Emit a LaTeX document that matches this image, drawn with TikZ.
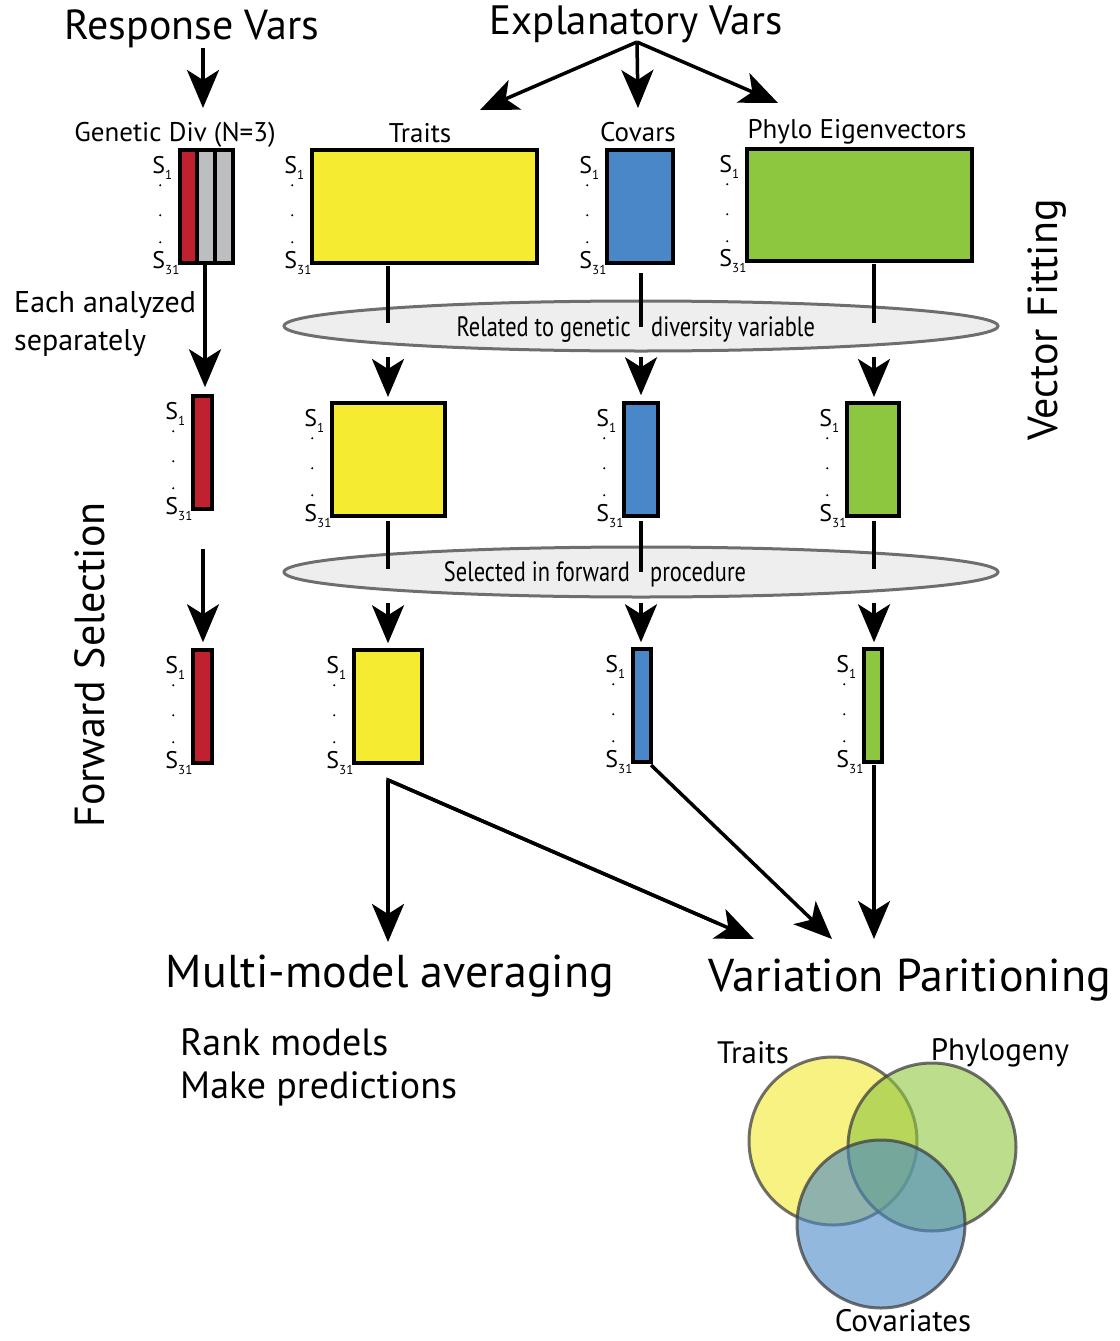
\documentclass[tikz,border=0pt]{standalone}
\usepackage{fontspec}
\setmainfont{PT Sans}
\newfontfamily\condfont[FakeStretch=0.8]{PT Sans}
\usetikzlibrary{arrows.meta,calc,shapes.geometric}
\definecolor{cred}{HTML}{C1202F}
\definecolor{cgray}{HTML}{BDBEC0}
\definecolor{cyel}{HTML}{F5EB30}
\definecolor{cblue}{HTML}{4A87C8}
\definecolor{cgreen}{HTML}{8DC63F}
\definecolor{ellfill}{HTML}{EEEEEE}
\definecolor{elldraw}{HTML}{6E6E6E}
\definecolor{vyel}{HTML}{F3E92F}
\definecolor{vgreen}{HTML}{8DC63F}
\definecolor{vblue}{HTML}{4A89C8}
\newcommand\fs[1]{\fontsize{#1}{#1}\selectfont}
\newcommand\subnum[1]{\raisebox{-0.5ex}{\fs{13pt}#1}}
\newcommand\slabels[1]{%
  \path (#1.north west) ++(-26,25) node[anchor=base west,inner sep=0pt,font=\fs{24pt}] (#1s1) {S\subnum{1}};
  \path (#1.south west) ++(-26,4) node[anchor=base west,inner sep=0pt,font=\fs{24pt}] (#1s31) {S\subnum{31}};
  \fill (#1.north west) ++(-18,37) circle (1.2);
  \fill (#1.north west) ++(-18,67) circle (1.2);
  \fill (#1.north west) ++(-18,94) circle (1.2);
}
\begin{document}
\begin{tikzpicture}[x=1pt,y=-1pt,
  box/.style={draw=black,line width=3.5pt,rectangle,inner sep=0pt},
  ln/.style={line width=3.5pt},
  arr/.style={line width=3.5pt,-{Stealth[length=38pt,width=32pt,inset=10pt]}},
  ell/.style={ellipse,draw=elldraw,fill=ellfill,line width=3pt,minimum width=714pt,minimum height=50pt,inner sep=0pt},
  venn/.style={circle,draw=black!75,draw opacity=0.75,line width=3pt,fill opacity=0.6,minimum size=168pt,inner sep=0pt},
  lab/.style={inner sep=0pt}]
\path[use as bounding box] (0,0) rectangle (1119,1341);

% titles
\node[lab,font=\fs{42pt}] (rv) at (192,29) {Response Vars};
\node[lab,font=\fs{41pt}] (ev) at (636,24) {Explanatory Vars};
\coordinate (rva) at (203,108);
\coordinate (ev0) at (637,42);
\coordinate (eva) at (480,110);
\coordinate (evb) at (638,108);
\coordinate (evc) at (778,103);
\draw[arr] (203,48) -- (rva);
\draw[arr] (ev0) -- (eva);
\draw[arr] (ev0) -- (evb);
\draw[arr] (ev0) -- (evc);

% column labels
\node[lab,font=\fs{27pt}] (gdl) at (175,135) {Genetic Div (N=3)};
\node[lab,font=\fs{27pt}] (trl) at (420,133) {Traits};
\node[lab,font=\fs{27pt}] (cvl) at (638,132) {Covars};
\node[lab,font=\fs{27pt}] (phl) at (857,132) {Phylo Eigenvectors};

% row 1
\fill[cred] (180,150) rectangle (197,263);
\fill[cgray] (197,150) rectangle (233,263);
\draw[line width=3.5pt] (197,150) -- (197,263) (215,150) -- (215,263);
\node[box,minimum width=53pt,minimum height=113pt] (g1) at (206.5,206.5) {};
\node[box,fill=cyel,minimum width=225pt,minimum height=113pt] (t1) at (424.5,206.5) {};
\node[box,fill=cblue,minimum width=66pt,minimum height=113pt] (c1) at (640,206.5) {};
\node[box,fill=cgreen,minimum width=225pt,minimum height=112pt] (p1) at (859.5,205) {};
\slabels{g1}\slabels{t1}\slabels{c1}\slabels{p1}

% ellipse 1
\node[ell] (e1) at (641,326) {};
\node[lab,anchor=base east,font=\condfont\fs{28pt}] (e1l) at (631,336) {Related to genetic};
\node[lab,anchor=base west,font=\condfont\fs{28pt}] (e1r) at (651,336) {diversity variable};

% row 2
\node[box,fill=cred,minimum width=19pt,minimum height=113pt] (r2) at (202.5,452.5) {};
\node[box,fill=cyel,minimum width=113pt,minimum height=113pt] (t2) at (388.5,459.5) {};
\node[box,fill=cblue,minimum width=34pt,minimum height=113pt] (c2) at (641,459.5) {};
\node[box,fill=cgreen,minimum width=52pt,minimum height=113pt] (p2) at (873,459.5) {};
\slabels{r2}\slabels{t2}\slabels{c2}\slabels{p2}

% ellipse 2
\node[ell] (e2) at (641,572) {};
\node[lab,anchor=base east,font=\condfont\fs{28pt}] (e2l) at (630,581) {Selected in forward};
\node[lab,anchor=base west,font=\condfont\fs{28pt}] (e2r) at (650,581) {procedure};

% row 3
\node[box,fill=cred,minimum width=19pt,minimum height=113pt] (r3) at (202.5,706.5) {};
\node[box,fill=cyel,minimum width=68pt,minimum height=113pt] (t3) at (388,706.5) {};
\node[box,fill=cblue,minimum width=18pt,minimum height=113pt] (c3) at (642,705.5) {};
\node[box,fill=cgreen,minimum width=18pt,minimum height=113pt] (p3) at (873,705.5) {};
\slabels{r3}\slabels{t3}\slabels{c3}\slabels{p3}

% left column arrows
\coordinate (g1b) at (205,263);
\draw[arr,shorten >=7pt] (g1b) -- (g1b |- r2.north);
\coordinate (r2a) at (203,549);
\draw[arr,shorten >=6pt] (r2a) -- (r2a |- r3.north);

% row1 -> ellipse1 -> row2
\draw[ln,shorten <=3pt] (388,263) -- (388,323);
\draw[ln,shorten <=8pt] (c1.south -| 641,0) -- (641,327);
\draw[ln,shorten <=3pt] (874,261) -- (874,323);
\draw[arr,shorten <=4pt,shorten >=6pt] (e1.south -| 388,0) -- (388,403);
\draw[arr,shorten <=4pt,shorten >=6pt] (e1.south -| 641,0) -- (c2.north);
\draw[arr,shorten <=4pt,shorten >=6pt] (e1.south -| 874,0) -- (874,403);

% row2 -> ellipse2 -> row3
\draw[ln,shorten <=3pt] (t2.south -| 388,0) -- (388,569);
\draw[ln,shorten <=3pt] (c2.south) -- (641,572);
\draw[ln,shorten <=3pt] (p2.south -| 874,0) -- (874,569);
\draw[arr,shorten <=4pt,shorten >=5pt] (e2.south -| 388,0) -- (t3.north);
\draw[arr,shorten <=4pt,shorten >=5pt] (e2.south -| 641,0) -- (c3.north -| 641,0);
\draw[arr,shorten <=4pt,shorten >=5pt] (e2.south -| 874,0) -- (p3.north -| 874,0);

% side labels
\node[lab,rotate=90,font=\fs{42pt}] (fsl) at (90,665) {Forward Selection};
\node[lab,rotate=90,font=\fs{42pt}] (vfl) at (1047,320) {Vector Fitting};
\node[lab,anchor=base west,font=\fs{30pt}] (eas1) at (14,312) {Each analyzed};
\node[lab,anchor=base west,font=\fs{30pt}] (eas2) at (14,350) {separately};

% bottom
\node[lab,font=\fs{46pt}] (mma) at (390,976) {Multi-model averaging};
\node[lab,font=\fs{46pt}] (vp) at (910,980) {Variation Paritioning};
\node[lab,anchor=west,font=\fs{38pt}] (rm) at (180,1042) {Rank models};
\node[lab,anchor=west,font=\fs{38pt}] (mp) at (180,1089) {Make predictions};

\coordinate (tb) at (388,780);
\coordinate (mmt) at (388,942);
\coordinate (vpa) at (754,939);
\coordinate (vpb) at (832,939);
\coordinate (vpc) at (874,939);
\draw[ln,line join=miter] (mmt) ++(0,-30) -- (tb) -- ($(tb)!0.9!(vpa)$);
\draw[arr] (tb) -- (mmt);
\draw[arr] (tb) -- (vpa);
\draw[arr] (651,765) -- (vpb);
\draw[arr] (874,765) -- (vpc);

% venn
\node[venn,fill=vyel] (vt) at (833,1141) {};
\node[venn,fill=vgreen] (vg) at (932,1147) {};
\node[venn,fill=vblue] (vc) at (881,1224) {};
\node[lab,font=\fs{31pt}] (vtl) at (753,1053) {Traits};
\node[lab,font=\fs{31pt}] (vgl) at (1000,1053) {Phylogeny};
\node[lab,font=\fs{31pt}] (vcl) at (903,1321) {Covariates};
\end{tikzpicture}
\end{document}
